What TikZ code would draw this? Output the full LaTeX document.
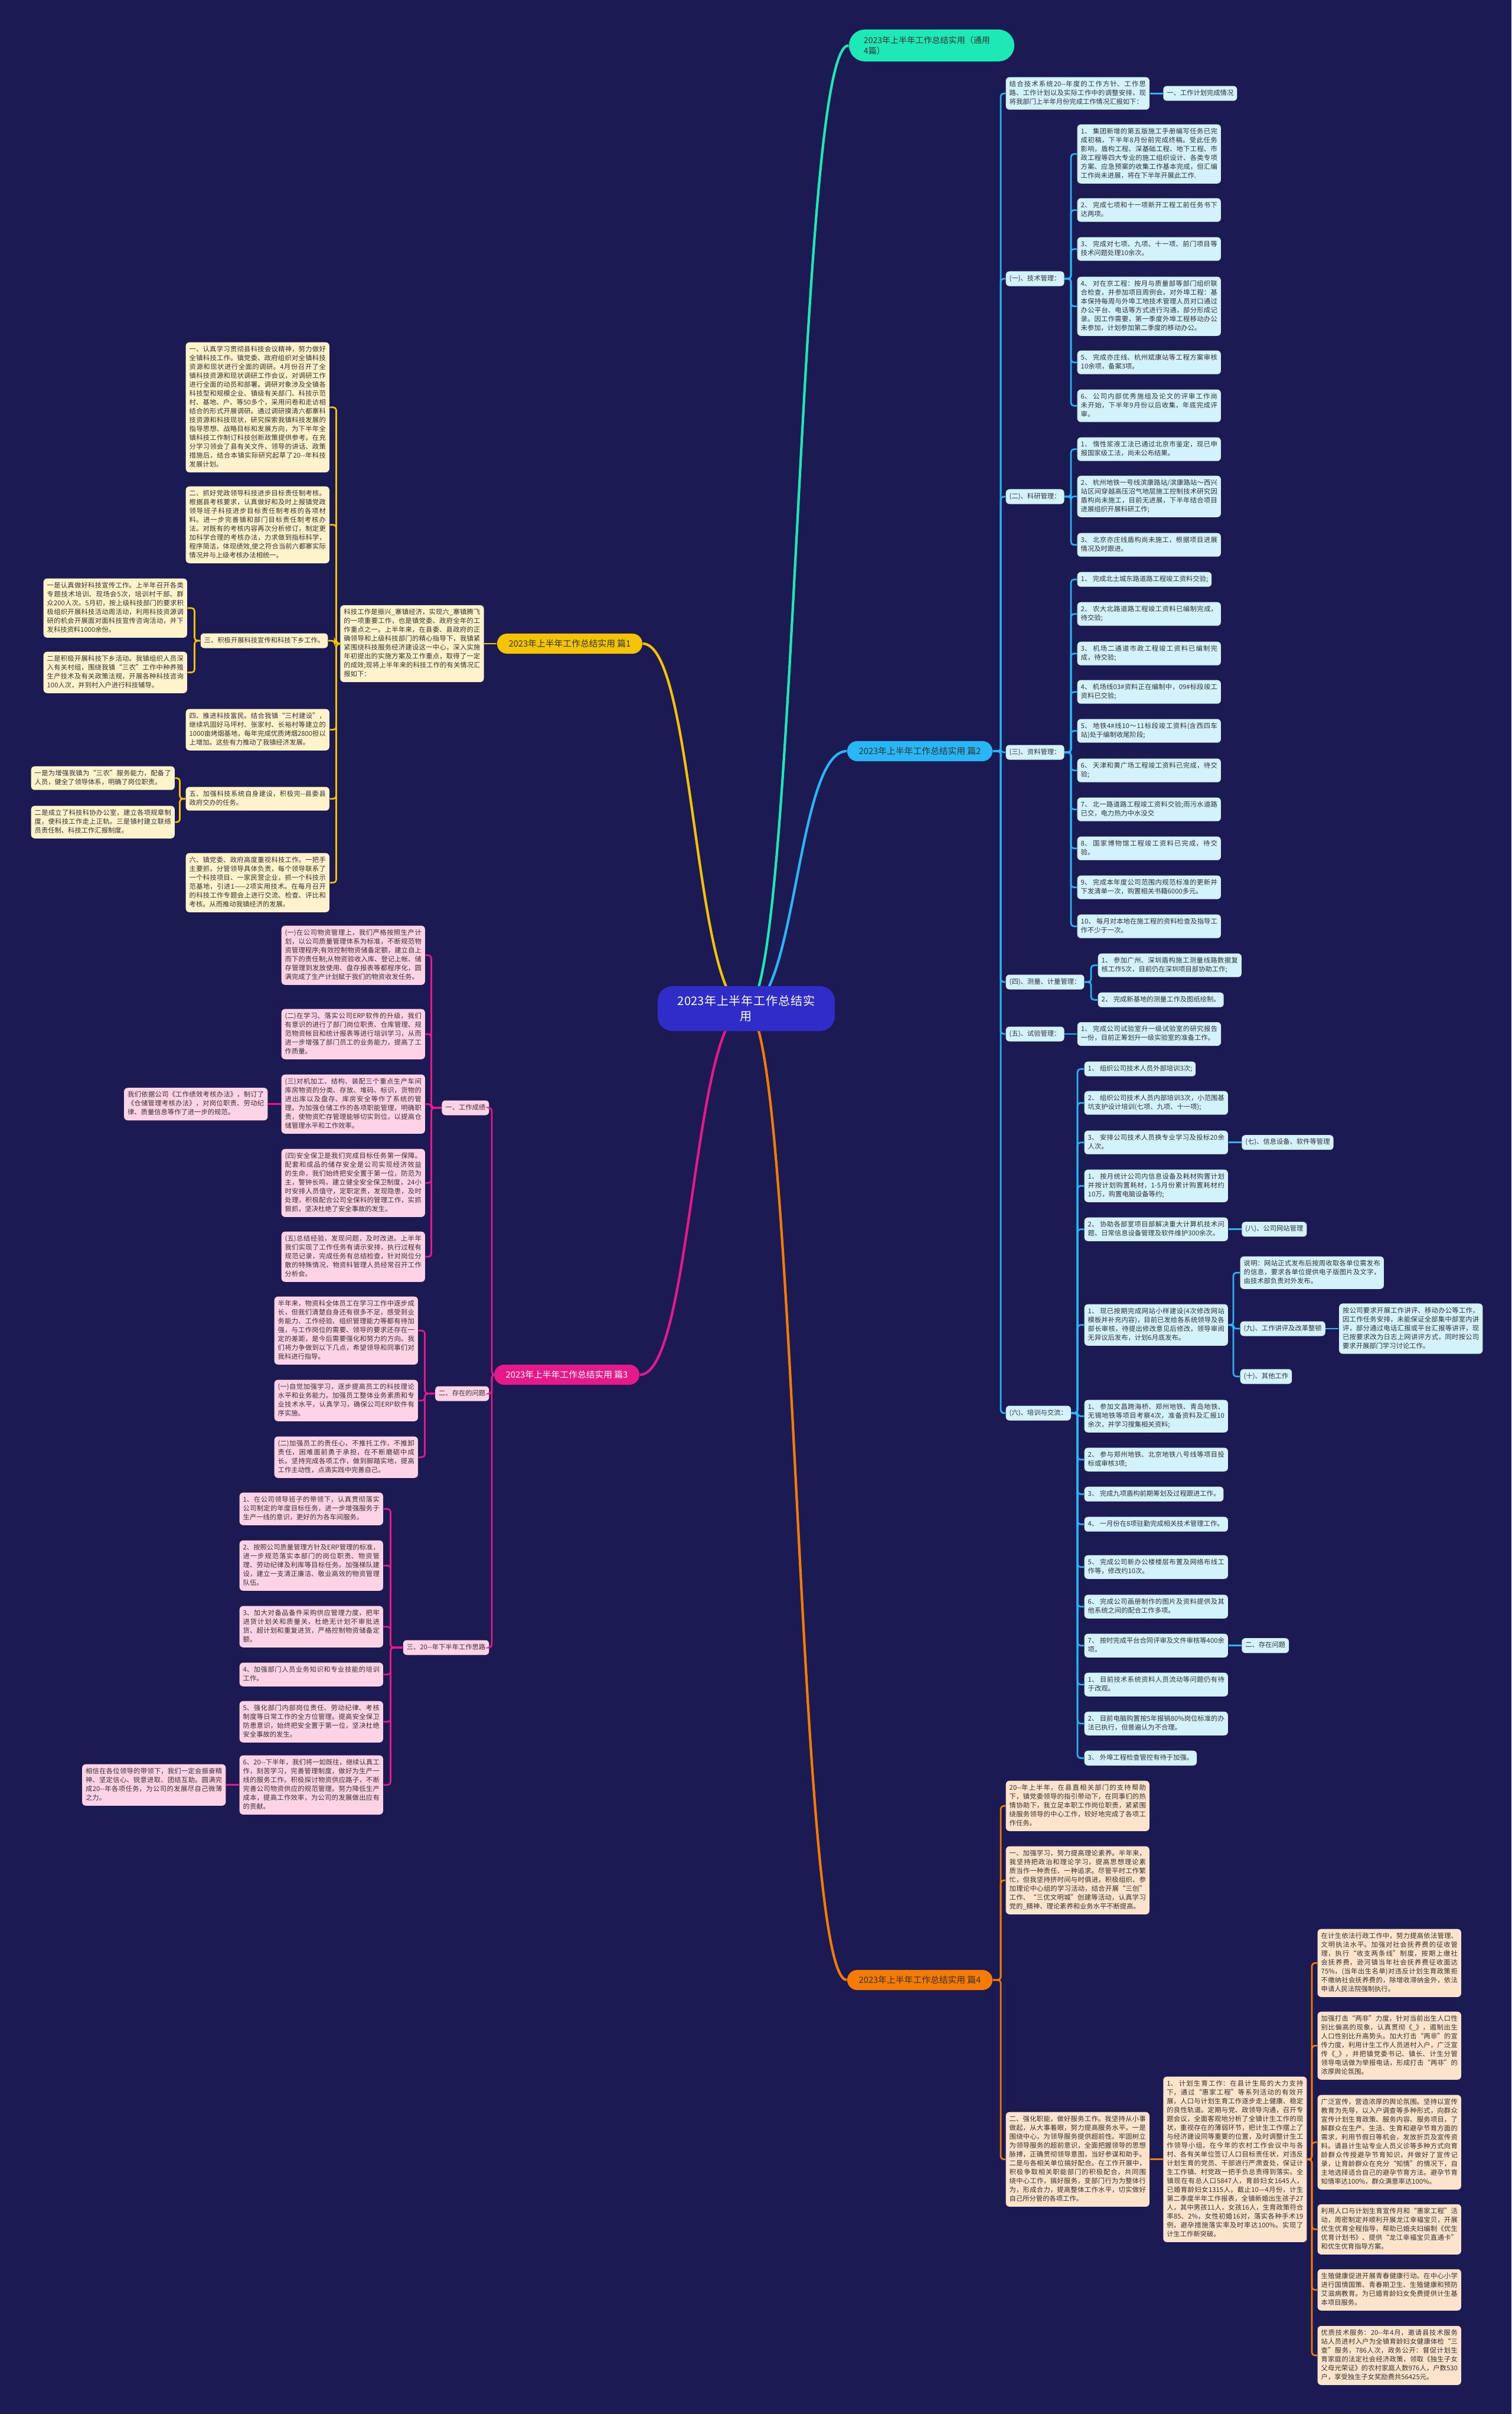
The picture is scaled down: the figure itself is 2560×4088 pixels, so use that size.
\documentclass[tikz,border=0pt]{standalone}
\usepackage{fontspec}
\setmainfont{Noto Sans CJK SC}
\usetikzlibrary{calc}
\XeTeXlinebreaklocale "zh"
\XeTeXlinebreakskip=0pt plus 0.8pt
\tolerance=9999
\emergencystretch=2pt
\hbadness=10000
\hfuzz=4pt
\definecolor{bgc}{HTML}{1B1A52}
\definecolor{rootc}{HTML}{302CC8}
\definecolor{mint}{HTML}{1DE9B6}
\definecolor{gold}{HTML}{F5C400}
\definecolor{goldf}{HTML}{FFF3CC}
\definecolor{sky}{HTML}{29B6F6}
\definecolor{skyf}{HTML}{D4F2FC}
\definecolor{mag}{HTML}{E6198A}
\definecolor{magf}{HTML}{FFD3E6}
\definecolor{org}{HTML}{F57C00}
\definecolor{orgf}{HTML}{FCE3CC}
\definecolor{txt}{HTML}{333333}
\newcommand\tsz{\fontsize{3.215pt}{4.268pt}\selectfont}
\newcommand\linkR[4]{\draw[#1] (#2.east) -| ($(#3.west)+(-#4,0)$) -- (#3.west);}
\newcommand\linkL[4]{\draw[#1] (#2.west) -| ($(#3.east)+(#4,0)$) -- (#3.east);}
\tikzset{
  nb/.style={rounded corners=0.06cm, inner xsep=0.06cm, inner ysep=0.05cm, text=txt, font=\tsz, execute at begin node=\strut, execute at end node=\strut},
  tb/.style={nb, text width=2.31cm, align=justify, anchor=north west},
  lb/.style={nb, anchor=west},
  lbe/.style={nb, anchor=east},
  pian/.style={rounded corners=0.17cm, minimum width=2.46cm, minimum height=0.34cm, inner sep=0.02cm, font=\fontsize{4.2pt}{5pt}\selectfont, text=txt},
  c1/.style={draw=gold, line width=0.75pt, rounded corners=0.05cm},
  c2/.style={draw=sky, line width=0.75pt, rounded corners=0.05cm},
  c3/.style={draw=mag, line width=0.75pt, rounded corners=0.05cm},
  c4/.style={draw=org, line width=0.75pt, rounded corners=0.05cm},
  mc/.style={line width=1.2pt},
  Y/.style={fill=goldf}, S/.style={fill=skyf}, M/.style={fill=magf}, O/.style={fill=orgf}
}
\begin{document}
\begin{tikzpicture}[x=0.01cm,y=-0.01cm]
\useasboundingbox (0,0) rectangle (2560,4088);
\fill[bgc] (0,0) rectangle (2560,4088);

% ---------- top-level nodes ----------
\node[fill=mint, text=txt, rounded corners=0.27cm, inner xsep=0.25cm, inner ysep=0.08cm, text width=2.3cm, align=left, font=\fontsize{4pt}{5.2pt}\selectfont, minimum height=0.54cm] (T) at (1578,77) {2023年上半年工作总结实用（通用\\4篇）};
\node[pian, fill=gold] (P1) at (965,1090) {2023年上半年工作总结实用 篇1};
\node[pian, fill=sky] (P2) at (1558,1272) {2023年上半年工作总结实用 篇2};
\node[pian, fill=mag, text=white] (P3) at (960,2328) {2023年上半年工作总结实用 篇3};
\node[pian, fill=org] (P4) at (1558,3353) {2023年上半年工作总结实用 篇4};

% ---------- 篇1 ----------
\node[tb, Y, anchor=east] (y0) at ($(P1.west)+(-21,0)$) {科技工作是振兴\_寨镇经济，实现六\_寨镇腾飞的一项重要工作，也是镇党委、政府全年的工作重点之一。上半年来，在县委、县政府的正确领导和上级科技部门的精心指导下，我镇紧紧围绕科技服务经济建设这一中心，深入实施年初提出的实施方案及工作重点，取得了一定的成效;现将上半年来的科技工作的有关情况汇报如下：};
\node[tb, Y] (y1) at (314,579) {一、认真学习贯彻县科技会议精神，努力做好全镇科技工作。镇党委、政府组织对全镇科技资源和现状进行全面的调研。4月份召开了全镇科技资源和现状调研工作会议，对调研工作进行全面的动员和部署。调研对象涉及全镇各科技型和规模企业、镇级有关部门、科技示范村、基地、户、等50多个，采用问卷和走访相结合的形式开展调研。通过调研摸清六都寨科技资源和科技现状，研究探索我镇科技发展的指导思想、战略目标和发展方向，为下半年全镇科技工作制订科技创新政策提供参考。在充分学习领会了县有关文件、领导的讲话、政策措施后，结合本镇实际研究起草了20-{}-年科技发展计划。};
\node[tb, Y] (y2) at (314,823) {二、抓好党政领导科技进步目标责任制考核。根据县考核要求，认真做好和及时上报镇党政领导班子科技进步目标责任制考核的各项材料。进一步完善镇和部门目标责任制考核办法。对既有的考核内容再次分析修订，制定更加科学合理的考核办法，力求做到指标科学，程序简洁，体现绩效,使之符合当前六都寨实际情况并与上级考核办法相统一。};
\node[lbe, Y] (y3) at (556,1085) {三、积极开展科技宣传和科技下乡工作。};
\node[tb, Y] (y31) at (73,979) {一是认真做好科技宣传工作。上半年召开各类专题技术培训、现场会5次，培训村干部、群众200人次。5月初，按上级科技部门的要求积极组织开展科技活动周活动，利用科技资源调研的机会开展面对面科技宣传咨询活动，并下发科技资料1000余份。};
\node[tb, Y] (y32) at (73,1103) {二是积极开展科技下乡活动。我镇组织人员深入有关村组，围绕我镇“三农”工作中种养殖生产技术及有关政策法规，开展各种科技咨询100人次，并到村入户进行科技辅导。};
\node[tb, Y] (y4) at (314,1200) {四、推进科技富民。结合我镇“三村建设”，继续巩固好马坪村、张家村、长裕村等建立的1000亩烤烟基地，每年完成优质烤烟2800担以上增加。这些有力推动了我镇经济发展。};
\node[tb, Y] (y5) at (314,1332) {五、加强科技系统自身建设，积极完-{}-县委县政府交办的任务。};
\node[tb, Y] (y51) at (52,1297) {一是为增强我镇为“三农”服务能力，配备了人员，健全了领导体系，明确了岗位职责。};
\node[tb, Y] (y52) at (52,1364) {二是成立了科技科协办公室，建立各项规章制度，使科技工作走上正轨。三是镇村建立联络员责任制、科技工作汇报制度。};
\node[tb, Y] (y6) at (314,1444) {六、镇党委、政府高度重视科技工作。一把手主要抓，分管领导具体负责，每个领导联系了一个科技项目、一家民营企业，抓一个科技示范基地，引进1——2项实用技术。在每月召开的科技工作专题会上进行交流、检查、评比和考核。从而推动我镇经济的发展。};
\draw[c1] (P1.west) -- (y0.east);
\foreach \c in {y1,y2,y3,y4,y5,y6}{\linkL{c1}{y0}{\c}{11}}
\linkL{c1}{y3}{y31}{12}
\linkL{c1}{y3}{y32}{12}
\linkL{c1}{y5}{y51}{8}
\linkL{c1}{y5}{y52}{8}

% ---------- 篇2 ----------
\node[tb, S] (a0) at (1703,130) {结合技术系统20-{}-年度的工作方针、工作思路、工作计划以及实际工作中的调整安排，现将我部门上半年月份完成工作情况汇报如下：};
\node[lb, S] (a0c) at ($(a0.east)+(22,0)$) {一、工作计划完成情况};
\draw[c2] (a0.east) -- (a0c.west);
\node[lb, S] (a1) at (1703,472) {(一)、技术管理：};
\node[tb, S] (a11) at (1824,210) {1、 集团新增的第五版施工手册编写任务已完成初稿，下半年8月份前完成终稿。受此任务影响，盾构工程、深基础工程、地下工程、市政工程等四大专业的施工组织设计、各类专项方案、应急预案的收集工作基本完成，但汇编工作尚未进展，将在下半年开展此工作.};
\node[tb, S] (a12) at (1824,335) {2、 完成七项和十一项新开工程工前任务书下达两项。};
\node[tb, S] (a13) at (1824,401) {3、 完成对七项、九项、十一项、前门项目等技术问题处理10余次。};
\node[tb, S] (a14) at (1824,468) {4、 对在京工程：按月与质量部等部门组织联合检查，并参加项目周例会。对外埠工程：基本保持每周与外埠工地技术管理人员对口通过办公平台、电话等方式进行沟通，部分形成记录。因工作需要，第一季度外埠工程移动办公未参加，计划参加第二季度的移动办公。};
\node[tb, S] (a15) at (1824,593) {5、 完成亦庄线、杭州斌康站等工程方案审核10余项，备案3项。};
\node[tb, S] (a16) at (1824,659) {6、 公司内部优秀施组及论文的评审工作尚未开始，下半年9月份以后收集，年底完成评审。};
\foreach \c in {a11,a12,a13,a14,a15,a16}{\linkR{c2}{a1}{\c}{10}}

\node[lb, S] (a2) at (1703,841) {(二)、科研管理：};
\node[tb, S] (a21) at (1824,740) {1、 惰性浆液工法已通过北京市鉴定，现已申报国家级工法，尚未公布结果。};
\node[tb, S] (a22) at (1824,805) {2、 杭州地铁一号线滨康路站/滨康路站～西兴站区间穿越高压沼气地层施工控制技术研究因盾构尚未施工，目前无进展，下半年结合项目进展组织开展科研工作;};
\node[tb, S] (a23) at (1824,902) {3、 北京亦庄线盾构尚未施工，根据项目进展情况及时跟进。};
\foreach \c in {a21,a22,a23}{\linkR{c2}{a2}{\c}{10}}

\node[lb, S] (a3) at (1703,1274) {(三)、资料管理：};
\node[lb, S, anchor=north west] (a31) at (1824,968) {1、 完成北土城东路道路工程竣工资料交验;};
\node[tb, S] (a32) at (1824,1019) {2、 农大北路道路工程竣工资料已编制完成，待交验;};
\node[tb, S] (a33) at (1824,1086) {3、 机场二通道市政工程竣工资料已编制完成，待交验;};
\node[tb, S] (a34) at (1824,1151) {4、 机场线03\#资料正在编制中，09\#标段竣工资料已交验;};
\node[tb, S] (a35) at (1824,1217) {5、 地铁4\#线10～11标段竣工资料(含西四车站)处于编制收尾阶段;};
\node[tb, S] (a36) at (1824,1284) {6、 天津和黄广场工程竣工资料已完成，待交验;};
\node[tb, S] (a37) at (1824,1350) {7、 北一路道路工程竣工资料交验;雨污水道路已交，电力热力中水没交};
\node[tb, S] (a38) at (1824,1416) {8、 国家博物馆工程竣工资料已完成，待交验。};
\node[tb, S] (a39) at (1824,1482) {9、 完成本年度公司范围内规范标准的更新并下发清单一次，购置相关书籍6000多元。};
\node[tb, S] (a310) at (1824,1548) {10、 每月对本地在施工程的资料检查及指导工作不少于一次。};
\foreach \c in {a31,a32,a33,a34,a35,a36,a37,a38,a39,a310}{\linkR{c2}{a3}{\c}{10}}

\node[lb, S] (a4) at (1703,1663) {(四)、测量、计量管理：};
\node[tb, S] (a41) at (1859,1614) {1、 参加广州、深圳盾构施工测量线路数据复核工作5次，目前仍在深圳项目部协助工作;};
\node[lb, S, anchor=north west] (a42) at (1859,1680) {2、 完成新基地的测量工作及图纸绘制。};
\foreach \c in {a41,a42}{\linkR{c2}{a4}{\c}{11}}

\node[lb, S] (a5) at (1703,1751) {(五)、试验管理：};
\node[tb, S, anchor=west] (a51) at ($(a5.east)+(21,0)$) {1、 完成公司试验室升一级试验室的研究报告一份，目前正筹划升一级实验室的准备工作。};
\draw[c2] (a5.east) -- (a51.west);

\node[lb, S] (a6) at (1703,2393) {(六)、培训与交流：};
\node[lb, S, anchor=north west] (a61) at (1836,1797) {1、 组织公司技术人员外部培训3次;};
\node[tb, S] (a62) at (1836,1847) {2、 组织公司技术人员内部培训3次，小范围基坑支护设计培训(七项、九项、十一项);};
\node[tb, S] (a63) at (1836,1914) {3、 安排公司技术人员换专业学习及投标20余人次。};
\node[tb, S] (a64) at (1836,1980) {1、 按月统计公司内信息设备及耗材购置计划并按计划购置耗材，1-5月份累计购置耗材约10万，购置电脑设备等约;};
\node[tb, S] (a65) at (1836,2061) {2、 协助各部室项目部解决重大计算机技术问题、日常信息设备管理及软件维护300余次。};
\node[tb, S] (a66) at (1836,2208) {1、 现已按期完成网站小样建设(4次修改网站模板并补充内容)，目前已发给各系统领导及各部长审核，待提出修改意见后修改，领导审阅无异议后发布，计划6月底发布。};
\node[tb, S] (a67) at (1836,2370) {1、 参加文昌跨海桥、郑州地铁、青岛地铁、无锡地铁等项目考察4次，准备资料及汇报10余次，并学习搜集相关资料;};
\node[tb, S] (a68) at (1836,2451) {2、 参与郑州地铁、北京地铁八号线等项目投标或审核3项;};
\node[lb, S, anchor=north west] (a69) at (1836,2517) {3、 完成九项盾构前期筹划及过程跟进工作。};
\node[tb, S] (a610) at (1836,2568) {4、 一月份在8项驻勤完成相关技术管理工作。};
\node[tb, S] (a611) at (1836,2633) {5、 完成公司新办公楼楼层布置及网络布线工作等，修改约10次。};
\node[tb, S] (a612) at (1836,2700) {6、 完成公司画册制作的图片及资料提供及其他系统之间的配合工作多项。};
\node[tb, S] (a613) at (1836,2766) {7、 按时完成平台合同评审及文件审核等400余项。};
\node[tb, S] (a614) at (1836,2832) {1、 目前技术系统资料人员流动等问题仍有待于改观。};
\node[tb, S] (a615) at (1836,2898) {2、 目前电脑购置按5年报销80\%岗位标准的办法已执行，但普遍认为不合理。};
\node[lb, S, anchor=north west] (a616) at (1836,2964) {3、 外埠工程检查管控有待于加强。};
\foreach \c in {a61,a62,a63,a64,a65,a66,a67,a68,a69,a610,a611,a612,a613,a614,a615,a616}{\linkR{c2}{a6}{\c}{11}}
\node[lb, S] (a63c) at ($(a63.east)+(22,0)$) {(七)、信息设备、软件等管理};
\draw[c2] (a63.east) -- (a63c.west);
\node[lb, S] (a65c) at ($(a65.east)+(22,0)$) {(八)、公司网站管理};
\draw[c2] (a65.east) -- (a65c.west);
\node[lb, S] (a613c) at ($(a613.east)+(22,0)$) {二、存在问题};
\draw[c2] (a613.east) -- (a613c.west);
\node[tb, S] (b1) at (2100,2127) {说明：网站正式发布后按周收取各单位需发布的信息，要求各单位提供电子版图片及文字，由技术部负责对外发布。};
\node[lb, S] (b2) at (2100,2250) {(九)、工作讲评及改革整顿};
\node[lb, S] (b3) at (2100,2331) {(十)、其他工作};
\foreach \c in {b1,b2,b3}{\linkR{c2}{a66}{\c}{11}}
\node[tb, S, anchor=west] (b2c) at ($(b2.east)+(22,0)$) {按公司要求开展工作讲评、移动办公等工作，因工作任务安排，未能保证全部集中部室内讲评，部分通过电话汇报或平台汇报等讲评，现已按要求改为日志上网讲评方式，同时按公司要求开展部门学习讨论工作。};
\draw[c2] (b2.east) -- (b2c.west);
\foreach \c in {a0,a1,a2,a3,a4,a5,a6}{\linkR{c2}{P2}{\c}{8}}

% ---------- 篇3 ----------
\node[lbe, M] (m1) at (829,1876) {一、工作成绩};
\node[tb, M] (m11) at (476,1567) {(一)在公司物资管理上，我们严格按照生产计划，以公司质量管理体系为标准，不断规范物资管理程序;有效控制物资储备定额，建立自上而下的责任制;从物资验收入库、登记上帐、储存管理到发放使用、盘存报表等都程序化，圆满完成了生产计划赋于我们的物资收发任务。};
\node[tb, M] (m12) at (476,1708) {(二)在学习、落实公司ERP软件的升级，我们有意识的进行了部门岗位职责、仓库管理、规范物资帐目和统计报表等进行培训学习，从而进一步增强了部门员工的业务能力，提高了工作质量。};
\node[tb, M] (m13) at (476,1819) {(三)对机加工、结构、装配三个重点生产车间库房物资的分类、存放、堆码、标识，货物的进出库以及盘存、库房安全等作了系统的管理。为加强仓储工作的各项职能管理，明确职责，使物资贮存管理能够切实到位，以提高仓储管理水平和工作效率。};
\node[tb, M] (m14) at (476,1945) {(四)安全保卫是我们完成目标任务第一保障。配套和成品的储存安全是公司实现经济效益的生命，我们始终把安全置于第一位，防范为主，警钟长鸣，建立健全安全保卫制度，24小时安排人员值守，定职定责，发现隐患，及时处理，积极配合公司全保科的管理工作，实抓狠抓，坚决杜绝了安全事故的发生。};
\node[tb, M] (m15) at (476,2085) {(五)总结经验，发现问题，及时改进。上半年我们实现了工作任务有请示安排，执行过程有规范记录，完成任务有总结检查，针对岗位分散的特殊情况，物资科管理人员经常召开工作分析会。};
\node[tb, M, anchor=east] (m13c) at ($(m13.west)+(-22,0)$) {我们依据公司《工作绩效考核办法》，制订了《仓储管理考核办法》，对岗位职责、劳动纪律、质量信息等作了进一步的规范。};
\draw[c3] (m13.west) -- (m13c.east);
\foreach \c in {m11,m12,m13,m14,m15}{\linkL{c3}{m1}{\c}{10}}

\node[lbe, M] (m2) at (829,2360) {二、存在的问题};
\node[tb, M] (m21) at (464,2195) {半年来，物资科全体员工在学习工作中逐步成长，但我们清楚自身还有很多不足，感受到业务能力、工作经验、组织管理能力等都有待加强，与工作岗位的需要、领导的要求还存在一定的差距，是今后需要强化和努力的方向。我们将力争做到以下几点，希望领导和同事们对我科进行指导。};
\node[tb, M] (m22) at (464,2336) {(一)自觉加强学习，逐步提高员工的科技理论水平和业务能力。加强员工整体业务素质和专业技术水平，认真学习，确保公司ERP软件有序实施。};
\node[tb, M] (m23) at (464,2432) {(二)加强员工的责任心，不推托工作，不推卸责任，困难面前勇于承担，在不断磨砺中成长。坚持完成各项工作，做到脚踏实地，提高工作主动性，点滴实践中完善自己。};
\foreach \c in {m21,m22,m23}{\linkL{c3}{m2}{\c}{11}}

\node[lbe, M] (m3) at (829,2790) {三、20-{}-年下半年工作思路};
\node[tb, M] (m31) at (405,2527) {1、在公司领导班子的带领下，认真贯彻落实公司制定的年度目标任务，进一步增强服务于生产一线的意识，更好的为各车间服务。};
\node[tb, M] (m32) at (405,2608) {2、按照公司质量管理方针及ERP管理的标准，进一步规范落实本部门的岗位职责、物资管理、劳动纪律及利库等目标任务。加强梯队建设，建立一支清正廉洁、敬业高效的物资管理队伍。};
\node[tb, M] (m33) at (405,2719) {3、加大对备品备件采购供应管理力度，把牢进货计划关和质量关，杜绝无计划不审批进货、超计划和重复进货，严格控制物资储备定额。};
\node[tb, M] (m34) at (405,2815) {4、加强部门人员业务知识和专业技能的培训工作。};
\node[tb, M] (m35) at (405,2880) {5、强化部门内部岗位责任、劳动纪律、考核制度等日常工作的全方位管理。提高安全保卫防患意识，始终把安全置于第一位，坚决杜绝安全事故的发生。};
\node[tb, M] (m36) at (405,2972) {6、20-{}-下半年，我们将一如既往，继续认真工作，刻苦学习，完善管理制度，做好为生产一线的服务工作。积极探讨物资供应路子，不断完善公司物资供应的规范管理。努力降低生产成本，提高工作效率，为公司的发展做出应有的贡献。};
\node[tb, M, anchor=east] (m36c) at ($(m36.west)+(-22,0)$) {相信在各位领导的带领下，我们一定会振奋精神、坚定信心、锐意进取、团结互助。圆满完成20-{}-年各项任务，为公司的发展尽自己微薄之力。};
\draw[c3] (m36.west) -- (m36c.east);
\foreach \c in {m31,m32,m33,m34,m35,m36}{\linkL{c3}{m3}{\c}{12}}
\foreach \c in {m1,m2,m3}{\linkL{c3}{P3}{\c}{4}}

% ---------- 篇4 ----------
\node[tb, O] (f1) at (1703,3015) {20-{}-年上半年，在县直相关部门的支持帮助下，镇党委领导的指引带动下，在同事们的热情协助下，我立足本职工作岗位职责，紧紧围绕服务领导的中心工作，较好地完成了各项工作任务。};
\node[tb, O] (f2) at (1703,3126) {一、加强学习，努力提高理论素养。半年来，我坚持把政治和理论学习，提高思想理论素质当作一种责任、一种追求。尽管平时工作繁忙，但我坚持挤时间与时俱进，积极组织、参加理论中心组的学习活动，结合开展“三创”工作、“三优文明城”创建等活动，认真学习党的\_精神、理论素养和业务水平不断提高。};
\node[tb, O] (f3) at (1703,3576) {二、强化职能，做好服务工作。我坚持从小事做起，从大事着眼，努力提高服务水平。一是围绕中心，为领导服务提供超前性。牢固树立为领导服务的超前意识，全面把握领导的思想脉搏，正确贯彻领导意图，当好参谋和助手。二是与各相关单位搞好配合。在工作开展中，积极争取相关职能部门的积极配合，共同围绕中心工作，搞好服务，变部门行为为整体行为，形成合力，提高整体工作水平，切实做好自己所分管的各项工作。};
\node[tb, O, anchor=west] (f3c) at ($(f3.east)+(22,0)$) {1、 计划生育工作：在县计生局的大力支持下，通过“惠家工程”等系列活动的有效开展，人口与计划生育工作逐步走上健康、稳定的良性轨道。定期与党、政领导沟通，召开专题会议，全面客观地分析了全镇计生工作的现状，重视存在的薄弱环节，把计生工作摆上了与经济建设同等重要的位置，及时调整计生工作领导小组，在今年的农村工作会议中与各村、各有关单位签订人口目标责任状，对违反计划生育的党员、干部进行严肃查处，保证计生工作镇、村党政一把手负总责得到落实。全镇现在有总人口5847人，育龄妇女1645人，已婚育龄妇女1315人。截止10—4月份，计生第二季度半年工作报表，全镇新婚出生孩子27人，其中男孩11人，女孩16人，生育政策符合率85、2\%，女性初婚16对，落实各种手术19例，避孕措施落实率及时率达100\%。实现了计生工作新突破。};
\draw[c4] (f3.east) -- (f3c.west);
\node[tb, O] (g1) at (2231,3266) {在计生依法行政工作中，努力提高依法管理、文明执法水平。加强对社会抚养费的征收管理，执行“收支两条线”制度，按期上缴社会抚养费，逊河镇当年社会抚养费征收面达75\%，(当年出生名单)对违反计划生育政策拒不缴纳社会抚养费的，除增收滞纳金外，依法申请人民法院强制执行。};
\node[tb, O] (g2) at (2231,3406) {加强打击“两非”力度，针对当前出生人口性别比偏高的现象，认真贯彻《\_》，遏制出生人口性别比升高势头。加大打击“两非”的宣传力度，利用计生工作人员进村入户，广泛宣传《\_》，并把镇党委书记、镇长、计生分管领导电话做为举报电话，形成打击“两非”的浓厚舆论氛围。};
\node[tb, O] (g3) at (2231,3547) {广泛宣传，营造浓厚的舆论氛围。坚持以宣传教育为先导，以入户调查等多种形式，向群众宣传计划生育政策、服务内容、服务项目，了解群众在生产、生活、生育和避孕节育方面的需求，利用节假日等机会，发放折页及宣传资料。请县计生站专业人员义诊等多种方式向育龄群众传授避孕节育知识，并做好了宣传记录，让育龄群众在充分“知情”的情况下，自主地选择适合自己的避孕节育方法。避孕节育知情率达100\%，群众满意率达100\%。};
\node[tb, O] (g4) at (2231,3732) {利用人口与计划生育宣传月和“惠家工程”活动，周密制定并顺利开展龙江幸福宝贝，开展优生优育全程指导，帮助已婚夫妇编制《优生优育计划书》、提供“龙江幸福宝贝直通卡”和优生优育指导方案。};
\node[tb, O] (g5) at (2231,3842) {生殖健康促进开展青春健康行动。在中心小学进行国情国策、青春期卫生、生殖健康和预防艾滋病教育。为已婚育龄妇女免费提供计生基本项目服务。};
\node[tb, O] (g6) at (2231,3938) {优质技术服务：20-{}-年4月，邀请县技术服务站人员进村入户为全镇育龄妇女健康体检“三查”服务，786人次，政务公开：督促计划生育家庭的法定社会经济政策，领取《独生子女父母光荣证》的农村家庭人数976人，户数530户，享受独生子女奖励费共56425元。};
\foreach \c in {g1,g2,g3,g4,g5,g6}{\linkR{c4}{f3c}{\c}{9}}
\foreach \c in {f1,f2,f3}{\linkR{c4}{P4}{\c}{8}}

% ---------- root and main curves ----------
\coordinate (rc) at (1264,1708);
\draw[mc, draw=mint] (rc) .. controls (1350,1708) and (1350,77) .. (T.west);
\draw[mc, draw=sky] (rc) .. controls (1349,1708) and (1349,1272) .. (P2.west);
\draw[mc, draw=org] (rc) .. controls (1349,1708) and (1349,3353) .. (P4.west);
\draw[mc, draw=gold] (rc) .. controls (1176,1708) and (1176,1090) .. (P1.east);
\draw[mc, draw=mag] (rc) .. controls (1173,1708) and (1173,2328) .. (P3.east);
\node[fill=rootc, text=white, rounded corners=0.25cm, minimum width=3cm, minimum height=0.76cm, text width=2.55cm, align=center, font=\fontsize{5.7pt}{7.4pt}\selectfont] (R) at (rc) {2023年上半年工作总结实\\用};
\end{tikzpicture}
\end{document}
